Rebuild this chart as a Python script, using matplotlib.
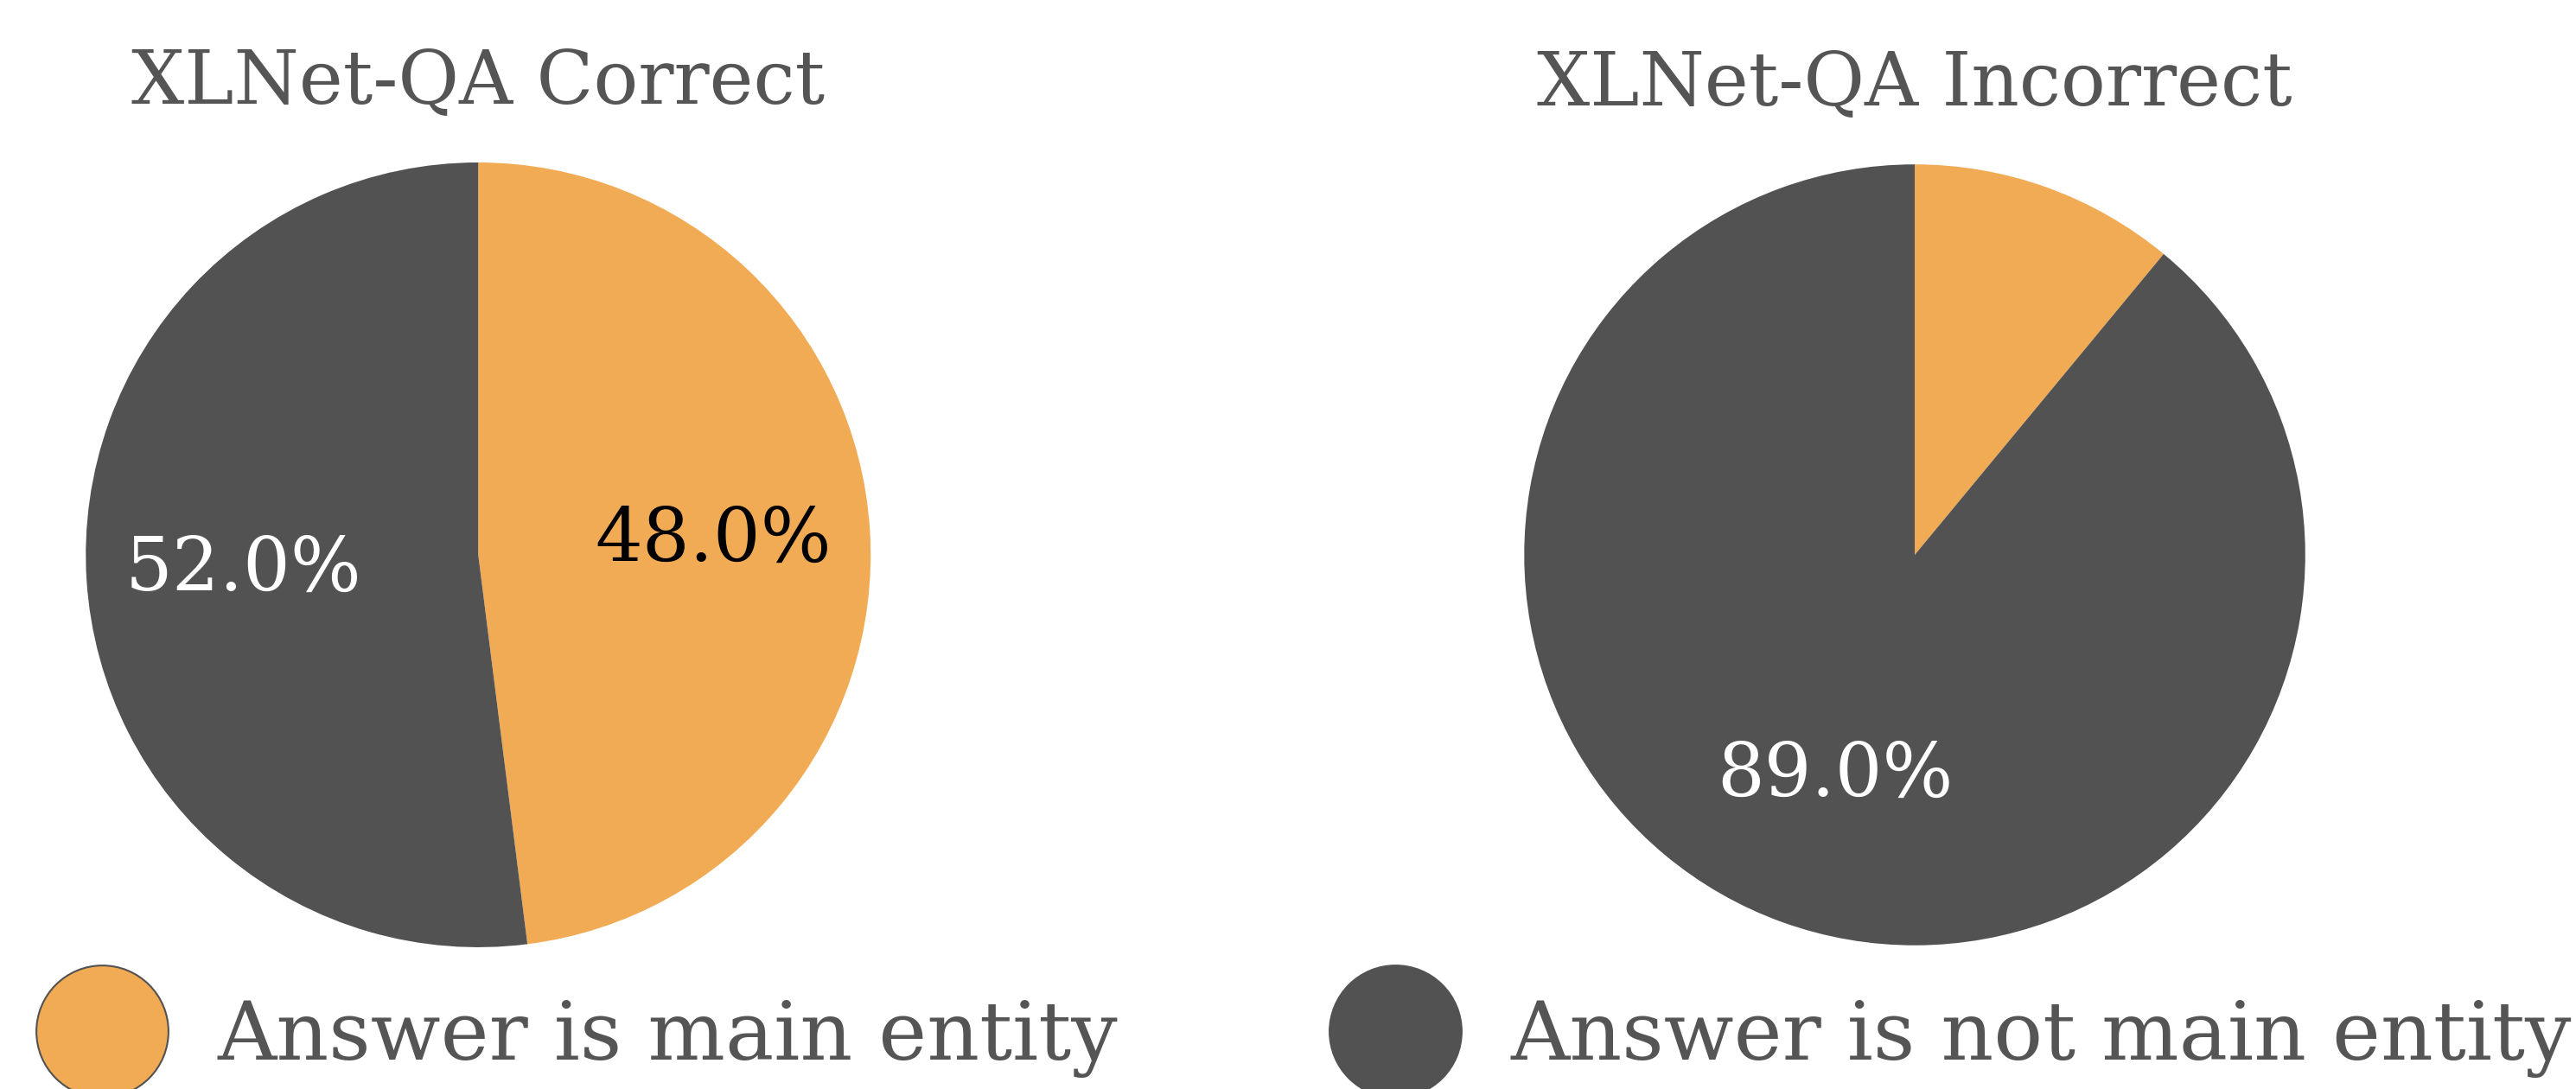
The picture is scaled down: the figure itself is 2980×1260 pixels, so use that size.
import matplotlib
matplotlib.use("Agg")
import matplotlib.pyplot as plt
from matplotlib.lines import Line2D

# datos de los dos graficos de torta
categorias = ["Answer is main entity", "Answer is not main entity"]
correcto = [48.0, 52.0]
incorrecto = [11.0, 89.0]
titulos = ["XLNet-QA Correct", "XLNet-QA Incorrect"]

NARANJA = "#F2AB55"
GRIS = "#525252"
TEXTO = "#555555"
colores = [NARANJA, GRIS]

plt.rcParams["font.family"] = ["DejaVu Serif"]

fig = plt.figure(figsize=(29.8, 12.6), dpi=100)

def pct(p):
    # la porcion chica del grafico derecho no lleva etiqueta
    return f"{p:.1f}%" if p >= 15 else ""

ejes = [fig.add_axes([0.0333, 0.1302, 0.3047, 0.7206]),
        fig.add_axes([0.5917, 0.1302, 0.3032, 0.7206])]

for ax, valores, titulo in zip(ejes, [correcto, incorrecto], titulos):
    wedges, textos, autotextos = ax.pie(valores, colors=colores, startangle=90,
                                        counterclock=False, autopct=pct,
                                        pctdistance=0.6,
                                        wedgeprops=dict(linewidth=0),
                                        textprops=dict(fontsize=62, color="white"))
    # la etiqueta sobre naranja va en negro
    autotextos[0].set_color("black")
    ax.set_xlim(-1, 1)
    ax.set_ylim(-1, 1)
    ax.set_aspect("equal")
    ax.set_title(titulo, fontsize=62, color=TEXTO, pad=49)

# leyenda: dos entradas separadas, con circulos grandes
for i, (cat, col, x) in enumerate(zip(categorias, colores, [0.0158, 0.518])):
    h = Line2D([], [], linestyle="none", marker="o", markersize=110,
               markerfacecolor=col, markeredgecolor=GRIS, markeredgewidth=1.5)
    fig.legend([h], [cat], loc="center left", bbox_to_anchor=(x, 0.047),
               frameon=False, fontsize=68, labelcolor=TEXTO,
               handlelength=1.5, handletextpad=0.66,
               borderpad=0, borderaxespad=0)

fig.savefig("out.png", dpi=100)
